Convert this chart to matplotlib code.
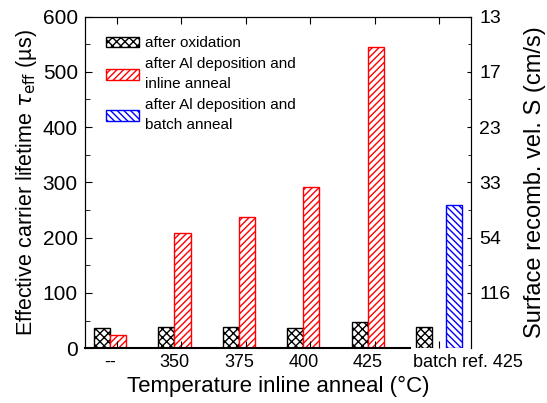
import numpy as np
import matplotlib.pyplot as plt
from matplotlib.patches import Patch

plt.rcParams['font.family'] = ['Liberation Sans', 'DejaVu Sans']
plt.rcParams['hatch.linewidth'] = 1.0

categories = ['--', '350', '375', '400', '425', 'batch ref. 425']
oxidation = [36, 38, 38, 37, 47, 39]
inline = [24, 208, 238, 291, 545]
batch = [259]
s_labels = ['116', '54', '33', '23', '17', '13']
s_pos = [100, 200, 300, 400, 500, 600]

fig = plt.figure(figsize=(5.47, 4.03), dpi=100)
ax = fig.add_axes([0.155, 0.136, 0.706, 0.823])

w = 0.25
x = np.arange(len(categories))
ax.bar(x - w / 2, oxidation, width=w, facecolor='white', edgecolor='black',
       hatch='xxxx', linewidth=1.0, align='center')
ax.bar(x[:5] + w / 2, inline, width=w, facecolor='white', edgecolor='red',
       hatch='/////', linewidth=1.0)
ax.bar([x[5] + 0.34], batch, width=w, facecolor='white', edgecolor='blue',
       hatch='\\\\\\\\\\', linewidth=1.0)

ax.set_xlim(-0.39, 5.6)
ax.set_ylim(0, 600)
ax.spines['bottom'].set_bounds(-0.39, 4.65)
ax.spines['bottom'].set_linewidth(1.5)

# tick marks sit slightly right of the pair centres, labels under the pairs
ax.set_xticks(x + 0.11)
ax.set_xticklabels([])
ax.set_xticks(list(x[:5]) + [5.55], minor=True)
ax.set_xticklabels(categories, minor=True, fontsize=13)
ax.tick_params(axis='x', which='major', direction='in', length=5, top=True)
ax.tick_params(axis='x', which='minor', length=0, pad=4)

ax.set_yticks(np.arange(0, 601, 100))
ax.set_yticks(np.arange(50, 600, 100), minor=True)
ax.tick_params(axis='y', which='major', direction='in', length=5, labelsize=15, pad=5)
ax.tick_params(axis='y', which='minor', direction='in', length=3.5)

ax.set_xlabel('Temperature inline anneal (°C)', fontsize=16, labelpad=4)
ax.set_ylabel(r'Effective carrier lifetime $\tau_{\rm eff}$ (µs)', fontsize=15.5,
              labelpad=3)

ax2 = ax.twinx()
ax2.set_ylim(0, 600)
ax2.set_yticks(s_pos)
ax2.set_yticklabels(s_labels)
ax2.set_yticks(np.arange(50, 600, 100), minor=True)
ax2.tick_params(axis='y', which='major', direction='in', length=3, labelsize=14, pad=6)
ax2.tick_params(axis='y', which='minor', direction='in', length=2)
ax2.set_ylabel('Surface recomb. vel. S (cm/s)', fontsize=17, labelpad=10)
ax2.spines['bottom'].set_visible(False)

handles = [
    Patch(facecolor='white', edgecolor='black', hatch='xxxx', label='after oxidation'),
    Patch(facecolor='white', edgecolor='red', hatch='/////',
          label='after Al deposition and\ninline anneal'),
    Patch(facecolor='white', edgecolor='blue', hatch='\\\\\\\\\\',
          label='after Al deposition and\nbatch anneal'),
]
leg = ax.legend(handles=handles, loc='upper left', bbox_to_anchor=(0.055, 0.94),
                frameon=False, fontsize=11, handlelength=2.15, handleheight=0.7,
                handletextpad=0.4, labelspacing=0.45, borderaxespad=0, borderpad=0)
for t in leg.get_texts():
    t.set_linespacing(1.55)

fig.savefig('out.png', dpi=100)
